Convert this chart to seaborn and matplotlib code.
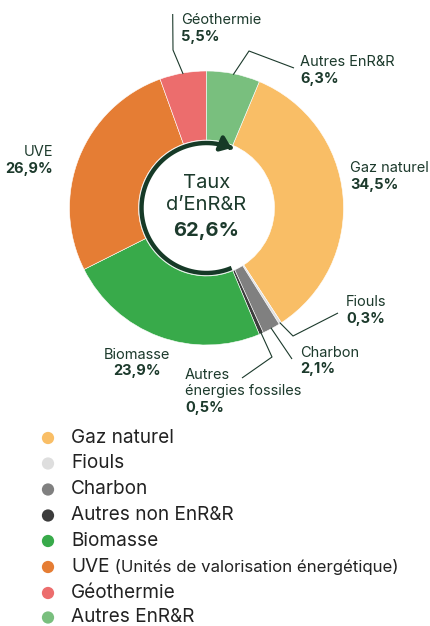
import numpy as np
import matplotlib
matplotlib.use("Agg")
import matplotlib.pyplot as plt
from matplotlib.path import Path
from matplotlib.patches import FancyArrowPatch
import seaborn as sns

# Data
categories = ["Gaz naturel", "Fiouls", "Charbon", "Autres non EnR&R",
              "Biomasse", "UVE", "Géothermie", "Autres EnR&R"]
shares = [34.5, 0.3, 2.1, 0.5, 23.9, 26.9, 5.5, 6.3]
share_labels = ["34,5%", "0,3%", "2,1%", "0,5%", "23,9%", "26,9%", "5,5%", "6,3%"]
slice_names = ["Gaz naturel", "Fiouls", "Charbon", "Autres\nénergies fossiles",
               "Biomasse", "UVE", "Géothermie", "Autres EnR&R"]
renewable = [False, False, False, False, True, True, True, True]
colors_hex = ["#F9BE66", "#DEDEDE", "#808080", "#3C3C3C",
              "#38AA4A", "#E57D34", "#EC6D6D", "#79BF7E"]
center_value = "62,6%"
uve_note = "(Unités de valorisation énergétique)"

# Style
sns.set_theme(style="white")
plt.rcParams['font.family'] = ['Inter', 'DejaVu Sans']
palette = sns.color_palette(colors_hex)
DARK = "#1C3A2C"
ARROW = "#163A27"

W, H = 430, 626
fig = plt.figure(figsize=(W / 100, H / 100), dpi=100)
ax = fig.add_axes([0, 0, 1, 1])

def Y(y):  # pixel-from-top -> data y
    return H - y

CX, CY = 206.5, Y(208)
R, R_IN, R_ARC = 137, 68, 65

start = 90 - 3.6 * shares[-1]
ax.pie(shares, colors=palette, startangle=start, counterclock=False,
       center=(CX, CY), radius=R,
       wedgeprops=dict(width=R - R_IN, edgecolor="white", linewidth=0.4))
ax.set_xlim(0, W)
ax.set_ylim(0, H)
ax.set_aspect("equal")
ax.axis("off")

# mid angles of each slice
cum = np.concatenate([[0], np.cumsum(shares)])
mid = start - 3.6 * (cum[:-1] + np.array(shares) / 2)

def edge_pt(i, r=136):
    a = np.deg2rad(mid[i])
    return CX + r * np.cos(a), CY + r * np.sin(a)

# Label layout: (text x, first line y, ha, leader elbow points)
layout = {
    "Géothermie": (181, 20, "left", [(173, 50), (172.7, 14)]),
    "Autres EnR&R": (300, 62, "left", [(249, 51), (294, 68)]),
    "Gaz naturel": (350, 168, "left", None),
    "Fiouls": (346, 302, "left", [(293, 336), (338, 313)]),
    "Charbon": (300, 353, "left", [(292, 359)]),
    "Autres\nénergies fossiles": (185, 375, "left", [(272, 357), (242, 378)]),
    "Biomasse": (137, 355, "center", None),
    "UVE": (53, 152, "right", None),
}
LINE = 16.5
for i, name in enumerate(slice_names):
    tx, ty, ha, pts = layout[name]
    lines = name.split("\n")
    for k, ln in enumerate(lines):
        ax.text(tx, Y(ty + k * LINE), ln, ha=ha, va="center",
                fontsize=10.5, color=DARK)
    ax.text(tx, Y(ty + len(lines) * LINE), share_labels[i], ha=ha, va="center",
            fontsize=10.5, fontweight="bold", color=DARK)
    if pts:
        xs = [edge_pt(i)[0]] + [p[0] for p in pts]
        ys = [edge_pt(i)[1]] + [Y(p[1]) for p in pts]
        ax.plot(xs, ys, color=DARK, lw=0.8, solid_capstyle="butt")

# Renewable progress arc with arrow
first_enr = renewable.index(True)
a0 = start - 3.6 * cum[first_enr]
a1 = a0 - 3.6 * sum(s for s, r in zip(shares, renewable) if r)
th = np.deg2rad(np.linspace(a0, a1, 300))
arc = Path(np.column_stack([CX + R_ARC * np.cos(th), CY + R_ARC * np.sin(th)]))
ax.add_patch(FancyArrowPatch(path=arc, arrowstyle="-|>,head_length=0.55,head_width=0.42",
                             mutation_scale=11, color=ARROW, lw=3.2,
                             capstyle="butt", joinstyle="round"))

# Centre text
ax.text(CX, Y(183), "Taux", ha="center", va="center", fontsize=14.5, color=DARK)
ax.text(CX, Y(205.5), "d\u2019EnR&R", ha="center", va="center", fontsize=14.5, color=DARK)
ax.text(CX, Y(231), center_value, ha="center", va="center", fontsize=14.5,
        fontweight="bold", color=DARK)

# Legend
leg_y = [438, 463.5, 489.5, 515.5, 541, 567, 593, 617.5]
for i, cat in enumerate(categories):
    ax.scatter([48], [Y(leg_y[i])], s=78, color=palette[i], edgecolors="none")
    t = ax.text(71, Y(leg_y[i]), cat, ha="left", va="center", fontsize=13.7, color="#222222")
    if cat == "UVE":
        ax.annotate(" " + uve_note, xy=(1, 0.5), xycoords=t, ha="left", va="center",
                    fontsize=12.1, color="#222222")

fig.savefig("out.png", dpi=100, facecolor="white")
